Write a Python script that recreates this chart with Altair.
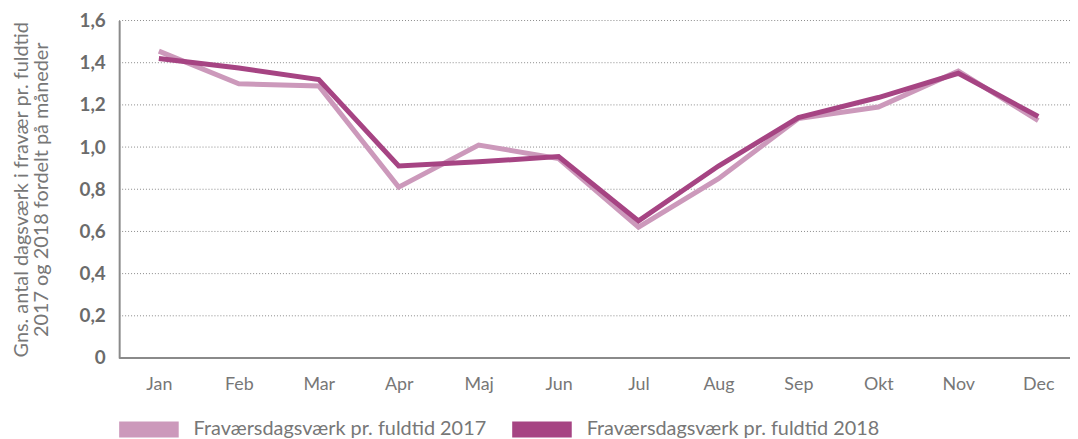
import altair as alt
import pandas as pd

months = ["Jan", "Feb", "Mar", "Apr", "Maj", "Jun", "Jul", "Aug", "Sep", "Okt", "Nov", "Dec"]
v2017 = [1.455, 1.30, 1.29, 0.81, 1.01, 0.945, 0.62, 0.85, 1.135, 1.19, 1.36, 1.125]
v2018 = [1.42, 1.375, 1.32, 0.91, 0.93, 0.955, 0.65, 0.91, 1.14, 1.235, 1.35, 1.145]
series = ["Fraværsdagsværk pr. fuldtid 2017", "Fraværsdagsværk pr. fuldtid 2018"]
colors = ["#CC99BB", "#A64483"]
y_ticks = [0, 0.2, 0.4, 0.6, 0.8, 1.0, 1.2, 1.4, 1.6]

rows = []
for s, vals in zip(series, [v2017, v2018]):
    for m, v in zip(months, vals):
        rows.append({"Måned": m, "Værdi": v, "Serie": s})
df = pd.DataFrame(rows)

FONT = "Lato"

y_enc = alt.Y("Værdi:Q", scale=alt.Scale(domain=[0, 1.6]),
              title=["Gns. antal dagsværk i fravær pr. fuldtid", "2017 og 2018 fordelt på måneder"],
              axis=alt.Axis(values=y_ticks,
                            labelExpr="datum.value == 0 ? '0' : replace(format(datum.value, '.1f'), '.', ',')",
                            ticks=False, labelPadding=14, labelFontSize=19, labelFontWeight="bold",
                            labelColor="#6b6b6b", labelFont=FONT, domainColor="#8a8a8a", domainWidth=2,
                            grid=False,
                            titleFont=FONT, titleFontSize=20, titleFontWeight="normal",
                            titleColor="#777777", titlePadding=28, titleLineHeight=20))

lines = alt.Chart(df).mark_line(strokeWidth=5, strokeJoin="miter").encode(
    x=alt.X("Måned:N", sort=months, title=None,
            scale=alt.Scale(type="point", range=[40, 926], padding=0),
            axis=alt.Axis(labelAngle=0, ticks=False, labelPadding=18, labelFontSize=18,
                          labelColor="#777777", labelFont=FONT, domain=False, grid=False)),
    y=y_enc,
    color=alt.Color("Serie:N", scale=alt.Scale(domain=series, range=colors),
                    legend=alt.Legend(title=None, orient="none", legendX=-8, legendY=374,
                                      direction="horizontal", padding=0,
                                      symbolType="stroke", symbolSize=3600,
                                      symbolStrokeWidth=16, symbolOffset=0,
                                      labelFont=FONT, labelFontSize=20, labelColor="#777777",
                                      labelOffset=7, columnPadding=-6, labelLimit=400)),
)

grid = alt.Chart(pd.DataFrame({"Værdi": y_ticks[1:]})).mark_rule(
    color="#8a8a8a", strokeWidth=1, strokeDash=[1, 2]
).encode(y=alt.Y("Værdi:Q"))

baseline = alt.Chart(pd.DataFrame({"Værdi": [0]})).mark_rule(color="#8a8a8a", strokeWidth=2).encode(
    y=alt.Y("Værdi:Q")
)

chart = alt.layer(grid, baseline, lines).properties(
    width=958, height=340,
    autosize=alt.AutoSizeParams(type="none"),
    padding={"left": 112, "top": 11, "right": 0, "bottom": 80},
).configure_view(stroke=None)

chart.save("out.html", embed_options={"renderer": "svg", "actions": False})
